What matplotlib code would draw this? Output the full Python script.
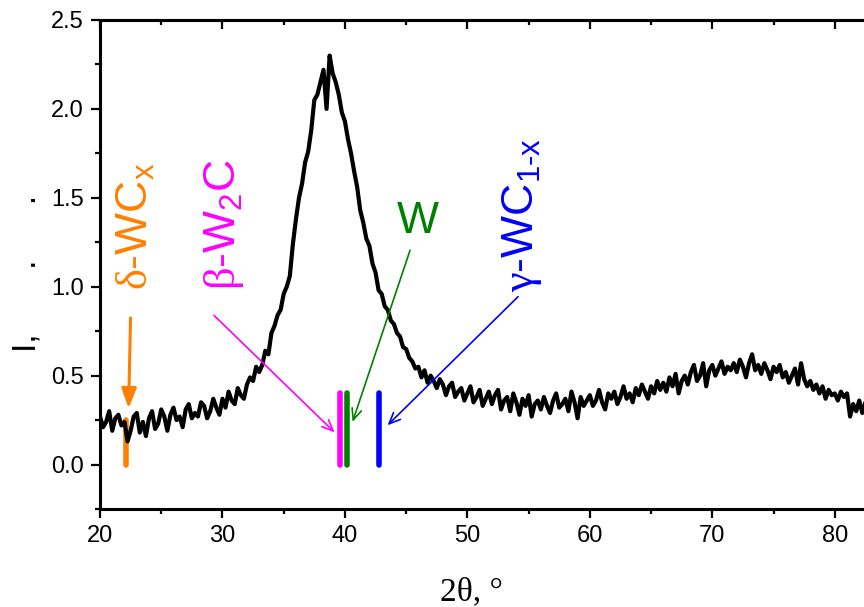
import numpy as np
import matplotlib
matplotlib.use("Agg")
import matplotlib.pyplot as plt
from matplotlib.ticker import MultipleLocator, FormatStrFormatter

plt.rcParams['font.family'] = ['Liberation Sans', 'DejaVu Sans']
plt.rcParams['mathtext.fontset'] = 'custom'
plt.rcParams['mathtext.rm'] = 'Liberation Sans'
plt.rcParams['mathtext.it'] = 'Liberation Sans:italic'
plt.rcParams['mathtext.cal'] = 'Liberation Serif'  # greek letters in serif

# XRD pattern, 2theta from 20 to 82.5 deg, step 0.25
theta_start = 20.0
theta_step = 0.25
intensity = [
    0.27, 0.21, 0.24, 0.30, 0.19, 0.26, 0.28, 0.22,   # 20
    0.24, 0.13, 0.19, 0.27, 0.29, 0.18, 0.24, 0.16,   # 22
    0.26, 0.30, 0.20, 0.23, 0.31, 0.27, 0.19, 0.28,   # 24
    0.32, 0.25, 0.27, 0.21, 0.31, 0.34, 0.26, 0.29,   # 26
    0.27, 0.35, 0.33, 0.26, 0.30, 0.37, 0.32, 0.28,   # 28
    0.37, 0.32, 0.41, 0.36, 0.34, 0.43, 0.39, 0.37,   # 30
    0.45, 0.49, 0.47, 0.55, 0.52, 0.56, 0.64, 0.62,   # 32
    0.74, 0.78, 0.84, 0.87, 0.96, 1.00, 1.06, 1.24,   # 34
    1.38, 1.50, 1.58, 1.70, 1.76, 1.88, 2.05, 2.08,   # 36
    2.15, 2.22, 2.00, 2.30, 2.20, 2.15, 2.08, 1.98,   # 38
    1.93, 1.83, 1.75, 1.65, 1.56, 1.43, 1.36, 1.27,   # 40
    1.23, 1.13, 1.08, 0.98, 0.96, 0.89, 0.87, 0.81,   # 42
    0.79, 0.74, 0.72, 0.66, 0.65, 0.60, 0.58, 0.54,   # 44
    0.55, 0.49, 0.53, 0.46, 0.50, 0.47, 0.43, 0.48,   # 46
    0.45, 0.39, 0.44, 0.46, 0.38, 0.41, 0.43, 0.36,   # 48
    0.40, 0.44, 0.35, 0.38, 0.42, 0.33, 0.37, 0.41,   # 50
    0.34, 0.39, 0.42, 0.31, 0.36, 0.38, 0.30, 0.40,   # 52
    0.35, 0.28, 0.37, 0.33, 0.39, 0.27, 0.34, 0.36,   # 54
    0.31, 0.38, 0.33, 0.29, 0.36, 0.40, 0.32, 0.34,   # 56
    0.37, 0.30, 0.41, 0.35, 0.26, 0.38, 0.33, 0.36,   # 58
    0.39, 0.33, 0.36, 0.42, 0.35, 0.31, 0.40, 0.37,   # 60
    0.41, 0.34, 0.38, 0.44, 0.37, 0.40, 0.35, 0.43,   # 62
    0.39, 0.45, 0.41, 0.37, 0.44, 0.40, 0.47, 0.42,   # 64
    0.46, 0.41, 0.49, 0.44, 0.51, 0.40, 0.47, 0.50,   # 66
    0.45, 0.52, 0.56, 0.47, 0.50, 0.57, 0.44, 0.53,   # 68
    0.56, 0.50, 0.54, 0.58, 0.51, 0.55, 0.53, 0.57,   # 70
    0.52, 0.59, 0.55, 0.49, 0.57, 0.62, 0.53, 0.56,   # 72
    0.51, 0.57, 0.53, 0.48, 0.55, 0.52, 0.56, 0.49,   # 74
    0.52, 0.46, 0.50, 0.54, 0.45, 0.57, 0.48, 0.44,   # 76
    0.47, 0.42, 0.45, 0.40, 0.44, 0.37, 0.42, 0.39,   # 78
    0.40, 0.36, 0.41, 0.38, 0.40, 0.27, 0.34, 0.30,   # 80
    0.36, 0.29, 0.35,                                 # 82
]
two_theta = theta_start + theta_step * np.arange(len(intensity))

# reference positions of phases
phase_names = ["$\\mathcal{δ}$-WC$_\\mathregular{x}$",
               "$\\mathcal{β}$-W$_\\mathregular{2}$C",
               "W",
               "$\\mathcal{γ}$-WC$_\\mathregular{1‐x}$"]
phase_pos = [22.15, 39.6, 40.2, 42.8]
phase_height = [0.25, 0.4, 0.4, 0.4]
phase_colors = ["#FF8000", "#FF00FF", "#008000", "#0000FF"]

fig = plt.figure(figsize=(8.64, 6.07), dpi=100)
ax = fig.add_axes([100 / 864, 98 / 607, 796 / 864, 489 / 607])

for p, h, c in zip(phase_pos, phase_height, phase_colors):
    ax.plot([p, p], [0, h], color=c, lw=4, solid_capstyle='round', zorder=2)

ax.plot(two_theta, intensity, color='black', lw=3.0, zorder=3)

ax.set_xlim(20, 85)
ax.set_ylim(-0.25, 2.5)
ax.xaxis.set_major_locator(MultipleLocator(10))
ax.xaxis.set_minor_locator(MultipleLocator(5))
ax.yaxis.set_major_locator(MultipleLocator(0.5))
ax.yaxis.set_minor_locator(MultipleLocator(0.25))
ax.yaxis.set_major_formatter(FormatStrFormatter('%.1f'))
ax.tick_params(which='both', direction='out', width=1.6, labelsize=17, pad=5,
               top=False, right=False)
ax.tick_params(which='major', length=6.5)
ax.tick_params(which='minor', length=3.6)
for s in ax.spines.values():
    s.set_linewidth(2.2)

top = ax.secondary_xaxis('top')
top.xaxis.set_major_locator(MultipleLocator(10))
top.xaxis.set_minor_locator(MultipleLocator(5))
top.tick_params(which='both', direction='in', width=1.6, labeltop=False)
top.tick_params(which='major', length=6.5)
top.tick_params(which='minor', length=3.6)
top.spines['top'].set_linewidth(2.2)

# rotated phase labels
ax.text(23.9, 0.98, phase_names[0], color=phase_colors[0], fontsize=32,
        rotation=90, rotation_mode='anchor', ha='left', va='baseline')
ax.text(31.0, 0.98, phase_names[1], color=phase_colors[1], fontsize=32,
        rotation=90, rotation_mode='anchor', ha='left', va='baseline')
ax.text(45.96, 1.30, phase_names[2], color=phase_colors[2], fontsize=32,
        ha='center', va='baseline')
ax.text(55.35, 0.97, phase_names[3], color=phase_colors[3], fontsize=32,
        rotation=90, rotation_mode='anchor', ha='left', va='baseline')

# arrows
ax.annotate('', xy=(22.33, 0.30), xytext=(22.5, 0.84),
            arrowprops=dict(arrowstyle='-|>,head_length=1.2,head_width=0.45',
                            color=phase_colors[0], lw=2.2), zorder=4)
ax.annotate('', xy=(39.32, 0.17), xytext=(29.14, 0.85),
            arrowprops=dict(arrowstyle='->,head_length=0.8,head_width=0.35',
                            color=phase_colors[1], lw=1.2), zorder=4)
ax.annotate('', xy=(40.55, 0.225), xytext=(45.39, 1.22),
            arrowprops=dict(arrowstyle='->,head_length=0.8,head_width=0.35',
                            color=phase_colors[2], lw=1.2), zorder=4)
ax.annotate('', xy=(43.32, 0.21), xytext=(54.3, 0.955),
            arrowprops=dict(arrowstyle='->,head_length=0.8,head_width=0.35',
                            color=phase_colors[3], lw=1.2), zorder=4)

# axis titles
fig.text(36 / 864, (607 - 352) / 607, "I,       .      .", fontsize=24,
         rotation=90, rotation_mode='anchor', ha='left', va='baseline')
fig.text(471 / 864, (607 - 600) / 607, "2θ, °", fontsize=24,
         family='Liberation Serif', ha='center', va='baseline')

fig.savefig("out.png", dpi=100)
